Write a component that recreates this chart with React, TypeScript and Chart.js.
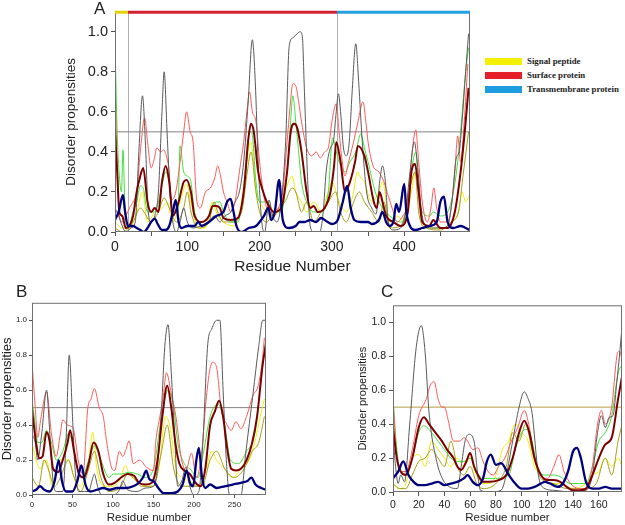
import React, { useEffect, useRef } from 'react';
import { Chart, registerables } from 'chart.js';
Chart.register(...registerables);

const FONT = "'Liberation Sans', Arial, sans-serif";

// ---------- Region annotation (panel A) ----------
const REGION_LABELS = ['Signal peptide', 'Surface protein', 'Transmembrane protein'];
const REGION_BOUNDS = [0, 18, 307, 491];
const REGION_BAR_COLORS = ['#e0d400', '#d42030', '#22a0e0'];
const LEGEND_COLORS = ['#f5f000', '#e62028', '#1e9ce0'];
const THRESHOLD = 0.5;
const Y_TICKS = [0, 0.2, 0.4, 0.6, 0.8, 1.0];

// ---------- Panel A (full sequence) ----------
const A_GRAY = [[0,0.12],[5,0.08],[10,0.03],[15,0.0],[22,0.02],[28,0.05],[33,0.4],[38,0.68],[42,0.45],[46,0.1],[50,0.05],[55,0.08],[60,0.2],[65,0.6],[68,0.8],[72,0.5],[76,0.2],[80,0.05],[85,0.0],[90,0.05],[95,0.12],[100,0.05],[108,0.02],[118,0.03],[128,0.05],[138,0.08],[145,0.05],[152,0.08],[160,0.1],[166,0.15],[172,0.2],[178,0.35],[184,0.64],[190,0.96],[194,0.75],[198,0.35],[203,0.05],[207,0.0],[213,0.16],[218,0.08],[224,0.05],[230,0.15],[236,0.45],[241,0.93],[246,0.97],[252,0.99],[256,1.0],[259,0.98],[262,0.7],[266,0.3],[270,0.03],[275,0.0],[283,0.0],[288,0.1],[292,0.3],[298,0.42],[302,0.45],[306,0.6],[309,0.69],[312,0.6],[316,0.42],[320,0.38],[324,0.45],[328,0.7],[333,0.94],[337,0.75],[342,0.45],[348,0.2],[355,0.12],[361,0.09],[366,0.25],[370,0.33],[374,0.25],[378,0.05],[385,0.01],[395,0.02],[402,0.1],[408,0.3],[414,0.45],[418,0.35],[424,0.1],[430,0.03],[440,0.02],[450,0.02],[460,0.03],[466,0.15],[472,0.37],[476,0.4],[480,0.55],[485,0.8],[489,0.99]];
const A_RED = [[0,0.74],[3,0.35],[6,0.08],[10,0.05],[15,0.08],[20,0.12],[25,0.15],[30,0.2],[35,0.4],[41,0.57],[45,0.45],[50,0.32],[54,0.36],[58,0.42],[63,0.4],[67,0.41],[71,0.38],[75,0.3],[78,0.16],[84,0.2],[90,0.35],[95,0.5],[99,0.6],[104,0.5],[108,0.45],[113,0.16],[118,0.12],[125,0.2],[132,0.22],[138,0.27],[142,0.33],[146,0.28],[150,0.2],[155,0.15],[160,0.1],[166,0.15],[172,0.3],[178,0.45],[183,0.62],[186,0.7],[190,0.6],[195,0.55],[200,0.35],[205,0.2],[210,0.12],[215,0.1],[220,0.08],[226,0.12],[232,0.2],[238,0.45],[242,0.62],[246,0.74],[250,0.73],[254,0.65],[258,0.55],[263,0.45],[267,0.4],[272,0.38],[278,0.4],[284,0.37],[290,0.4],[295,0.42],[300,0.55],[306,0.64],[310,0.5],[314,0.36],[318,0.28],[323,0.35],[330,0.45],[336,0.55],[343,0.65],[347,0.55],[350,0.45],[357,0.33],[365,0.3],[372,0.25],[378,0.18],[385,0.1],[390,0.05],[398,0.08],[405,0.15],[411,0.4],[416,0.51],[420,0.35],[425,0.15],[432,0.05],[437,0.12],[441,0.22],[445,0.12],[450,0.05],[460,0.05],[466,0.15],[470,0.3],[474,0.48],[478,0.35],[483,0.55],[488,0.84]];
const A_GREEN = [[0,0.94],[3,0.5],[6,0.28],[9,0.2],[11,0.41],[14,0.1],[18,0.02],[25,0.1],[30,0.15],[35,0.23],[39,0.22],[45,0.1],[55,0.1],[62,0.18],[66,0.25],[70,0.3],[75,0.25],[80,0.1],[87,0.1],[90,0.43],[95,0.3],[100,0.28],[105,0.25],[110,0.1],[120,0.05],[130,0.08],[140,0.15],[145,0.15],[150,0.1],[160,0.05],[170,0.05],[176,0.15],[181,0.3],[186,0.5],[189,0.5],[195,0.25],[200,0.15],[210,0.15],[220,0.1],[230,0.1],[238,0.3],[242,0.5],[246,0.68],[250,0.55],[254,0.4],[258,0.25],[265,0.15],[275,0.1],[285,0.1],[295,0.2],[301,0.47],[306,0.4],[310,0.35],[318,0.3],[325,0.35],[333,0.4],[340,0.49],[345,0.42],[350,0.35],[360,0.2],[370,0.12],[380,0.08],[395,0.05],[405,0.12],[410,0.3],[416,0.4],[420,0.2],[425,0.1],[435,0.08],[440,0.1],[450,0.08],[460,0.1],[468,0.2],[474,0.35],[478,0.5],[485,0.8],[489,0.92]];
const A_YELLOW = [[0,0.05],[10,0.02],[20,0.02],[30,0.1],[38,0.2],[45,0.05],[55,0.1],[65,0.12],[72,0.15],[80,0.05],[90,0.15],[99,0.24],[105,0.15],[115,0.02],[125,0.02],[135,0.15],[140,0.1],[150,0.05],[165,0.03],[175,0.15],[182,0.35],[188,0.45],[195,0.2],[200,0.15],[210,0.1],[220,0.08],[230,0.15],[240,0.25],[245,0.28],[250,0.2],[258,0.15],[265,0.1],[275,0.15],[285,0.1],[295,0.2],[300,0.25],[310,0.15],[320,0.1],[330,0.2],[335,0.3],[340,0.27],[345,0.25],[355,0.15],[365,0.2],[370,0.25],[380,0.05],[390,0.08],[400,0.05],[410,0.2],[416,0.3],[425,0.05],[435,0.02],[445,0.02],[455,0.02],[465,0.05],[475,0.1],[480,0.2],[485,0.15],[490,0.18]];
const A_OLIVE = [[0,0.02],[10,0.0],[25,0.05],[35,0.12],[40,0.1],[50,0.05],[60,0.1],[68,0.17],[75,0.12],[85,0.05],[95,0.12],[100,0.2],[105,0.1],[115,0.02],[130,0.05],[137,0.15],[142,0.1],[150,0.05],[160,0.05],[175,0.1],[183,0.3],[188,0.4],[195,0.2],[200,0.1],[210,0.05],[220,0.1],[235,0.15],[245,0.22],[250,0.2],[258,0.1],[265,0.15],[275,0.05],[285,0.1],[295,0.15],[305,0.2],[312,0.1],[320,0.05],[330,0.15],[338,0.2],[345,0.15],[355,0.1],[365,0.05],[372,0.15],[380,0.02],[395,0.03],[410,0.25],[415,0.3],[420,0.1],[430,0.02],[450,0.01],[465,0.05],[475,0.1],[482,0.3],[489,0.5]];
const A_MEAN = [[0,0.5],[3,0.3],[6,0.1],[10,0.08],[15,0.02],[20,0.03],[25,0.08],[30,0.2],[35,0.28],[39,0.32],[45,0.15],[50,0.1],[55,0.12],[60,0.1],[65,0.25],[70,0.33],[75,0.25],[80,0.08],[88,0.15],[95,0.25],[99,0.26],[105,0.2],[110,0.08],[120,0.05],[130,0.08],[135,0.13],[140,0.13],[145,0.12],[150,0.07],[160,0.06],[170,0.07],[178,0.2],[184,0.45],[188,0.54],[192,0.5],[198,0.3],[205,0.2],[210,0.15],[220,0.1],[230,0.12],[238,0.3],[243,0.5],[248,0.54],[252,0.52],[258,0.4],[265,0.2],[270,0.12],[275,0.13],[280,0.1],[290,0.12],[298,0.2],[303,0.33],[306,0.45],[312,0.35],[318,0.2],[325,0.25],[332,0.35],[336,0.43],[345,0.38],[350,0.3],[358,0.15],[362,0.12],[366,0.2],[370,0.15],[375,0.08],[385,0.05],[395,0.03],[405,0.1],[410,0.3],[415,0.34],[420,0.2],[425,0.05],[435,0.03],[440,0.06],[450,0.02],[460,0.02],[470,0.1],[478,0.3],[485,0.55],[489,0.72]];
const A_BLUE = [[0,0.06],[5,0.1],[11,0.185],[14,0.1],[18,0.03],[25,0.03],[30,0.02],[35,0.01],[40,0.0],[45,0.02],[50,0.05],[55,0.067],[59,0.04],[65,0.01],[70,0.01],[75,0.03],[80,0.1],[84,0.16],[88,0.05],[92,0.02],[100,0.03],[110,0.03],[115,0.05],[120,0.03],[130,0.05],[140,0.08],[150,0.1],[155,0.15],[160,0.165],[164,0.1],[168,0.03],[175,0.0],[185,0.02],[195,0.03],[200,0.05],[206,0.08],[212,0.12],[216,0.06],[221,0.1],[227,0.26],[232,0.06],[240,0.02],[250,0.03],[255,0.05],[262,0.05],[270,0.06],[278,0.05],[285,0.07],[290,0.06],[300,0.04],[308,0.06],[315,0.15],[321,0.23],[326,0.12],[331,0.06],[340,0.05],[350,0.05],[355,0.04],[365,0.06],[370,0.1],[375,0.05],[380,0.03],[385,0.05],[389,0.14],[393,0.1],[400,0.24],[403,0.1],[408,0.03],[415,0.01],[425,0.02],[435,0.03],[445,0.05],[450,0.15],[455,0.176],[460,0.05],[468,0.02],[478,0.03],[485,0.02],[490,0.01]];

// ---------- Panel B (surface protein) ----------
const B_GRAY = [[0,0.35],[4,0.3],[7,0.2],[12,0.35],[18,0.6],[22,0.35],[26,0.08],[30,0.02],[38,0.02],[42,0.3],[46,0.8],[50,0.45],[53,0.16],[58,0.02],[65,0.02],[70,0.02],[74,0.08],[77,0.12],[81,0.05],[86,0.0],[100,0.0],[108,0.03],[112,0.08],[118,0.03],[130,0.02],[140,0.04],[150,0.05],[155,0.16],[160,0.5],[164,0.85],[168,0.975],[172,0.7],[176,0.35],[180,0.05],[185,0.08],[190,0.16],[195,0.05],[200,0.0],[206,0.02],[211,0.3],[217,0.86],[222,0.95],[228,1.0],[232,1.0],[236,0.6],[240,0.2],[244,0.0],[258,0.0],[264,0.24],[273,0.58],[280,0.85],[285,1.0],[289,1.0]];
const B_RED = [[0,0.76],[4,0.5],[7,0.33],[11,0.44],[18,0.59],[24,0.35],[30,0.22],[35,0.35],[38,0.43],[44,0.4],[51,0.38],[54,0.3],[57,0.2],[63,0.12],[69,0.5],[73,0.55],[77,0.61],[83,0.5],[88,0.45],[92,0.31],[98,0.16],[102,0.14],[108,0.25],[112,0.22],[116,0.26],[120,0.31],[125,0.18],[133,0.2],[141,0.16],[150,0.14],[153,0.31],[158,0.45],[162,0.56],[166,0.7],[172,0.58],[178,0.44],[184,0.22],[190,0.14],[197,0.24],[203,0.1],[209,0.22],[215,0.54],[219,0.7],[223,0.76],[228,0.73],[234,0.48],[240,0.41],[246,0.37],[252,0.42],[258,0.38],[265,0.45],[273,0.57],[279,0.62],[284,0.75],[287,0.9]];
const B_GREEN = [[0,0.55],[4,0.4],[7,0.3],[12,0.3],[18,0.37],[24,0.3],[30,0.2],[38,0.25],[45,0.35],[50,0.3],[56,0.15],[62,0.1],[70,0.2],[77,0.28],[85,0.2],[95,0.1],[100,0.12],[110,0.12],[120,0.13],[130,0.12],[140,0.1],[150,0.15],[160,0.45],[168,0.6],[175,0.5],[180,0.3],[188,0.18],[195,0.15],[205,0.1],[212,0.25],[220,0.45],[230,0.52],[238,0.4],[245,0.2],[255,0.18],[265,0.25],[275,0.35],[285,0.75],[289,0.85]];
const B_YELLOW = [[0,0.3],[5,0.2],[10,0.15],[18,0.2],[25,0.05],[30,0.15],[35,0.2],[45,0.2],[52,0.1],[60,0.05],[70,0.2],[75,0.36],[80,0.15],[90,0.05],[100,0.05],[110,0.1],[115,0.17],[120,0.12],[130,0.08],[140,0.05],[150,0.05],[158,0.2],[165,0.45],[170,0.4],[178,0.15],[185,0.1],[195,0.08],[205,0.05],[215,0.15],[222,0.25],[228,0.2],[238,0.15],[248,0.1],[258,0.15],[268,0.2],[275,0.3],[282,0.45],[287,0.55]];
const B_OLIVE = [[0,0.1],[8,0.05],[15,0.2],[20,0.15],[28,0.05],[35,0.1],[45,0.2],[52,0.1],[60,0.02],[70,0.15],[77,0.25],[85,0.1],[95,0.02],[110,0.05],[118,0.12],[125,0.1],[135,0.05],[150,0.05],[160,0.25],[167,0.4],[175,0.15],[185,0.05],[195,0.05],[210,0.05],[220,0.2],[228,0.25],[238,0.15],[250,0.1],[262,0.15],[272,0.25],[280,0.3],[287,0.45]];
const B_MEAN = [[0,0.49],[5,0.3],[9,0.21],[13,0.22],[18,0.36],[22,0.3],[26,0.15],[32,0.13],[38,0.2],[44,0.3],[47,0.37],[52,0.25],[58,0.12],[64,0.1],[70,0.18],[76,0.3],[82,0.25],[88,0.12],[95,0.06],[102,0.07],[110,0.1],[118,0.12],[126,0.11],[132,0.07],[140,0.06],[148,0.07],[155,0.2],[161,0.45],[167,0.625],[172,0.5],[177,0.3],[182,0.18],[188,0.14],[195,0.12],[202,0.07],[208,0.05],[214,0.15],[220,0.4],[226,0.48],[231,0.54],[236,0.45],[240,0.3],[246,0.15],[252,0.14],[258,0.15],[265,0.2],[272,0.3],[278,0.45],[285,0.75],[289,0.87]];
const B_BLUE = [[0,0.02],[5,0.03],[10,0.05],[15,0.03],[22,0.02],[28,0.08],[33,0.2],[37,0.08],[42,0.02],[50,0.02],[56,0.08],[61,0.17],[66,0.06],[72,0.02],[80,0.03],[88,0.04],[96,0.03],[105,0.04],[115,0.04],[125,0.05],[132,0.07],[137,0.1],[141,0.14],[145,0.09],[150,0.08],[156,0.04],[163,0.01],[172,0.01],[180,0.02],[186,0.06],[191,0.14],[195,0.07],[199,0.05],[203,0.2],[206,0.27],[210,0.1],[214,0.04],[220,0.06],[228,0.04],[238,0.05],[248,0.06],[258,0.07],[266,0.08],[271,0.1],[276,0.06],[283,0.04],[289,0.03]];

// ---------- Panel C (transmembrane protein) ----------
const C_GRAY = [[0,0.34],[2,0.15],[4,0.05],[6,0.1],[9,0.06],[13,0.4],[18,0.85],[22,0.98],[25,0.82],[28,0.47],[34,0.18],[39,0.07],[44,0.03],[50,0.02],[53,0.15],[56,0.3],[59,0.34],[63,0.3],[66,0.09],[68,0.01],[75,0.0],[84,0.01],[88,0.1],[93,0.3],[98,0.5],[102,0.59],[105,0.55],[108,0.47],[113,0.1],[116,0.03],[125,0.01],[140,0.0],[150,0.01],[155,0.1],[159,0.35],[162,0.45],[165,0.38],[168,0.44],[171,0.45],[174,0.65],[176,0.8],[178,0.97]];
const C_RED = [[0,0.55],[3,0.2],[6,0.12],[10,0.12],[15,0.25],[20,0.45],[26,0.55],[29,0.63],[32,0.65],[35,0.55],[38,0.5],[40,0.5],[43,0.42],[47,0.3],[52,0.3],[55,0.32],[58,0.3],[62,0.25],[66,0.26],[70,0.18],[74,0.12],[78,0.1],[82,0.15],[87,0.2],[92,0.3],[97,0.38],[102,0.48],[106,0.38],[110,0.2],[115,0.1],[120,0.08],[125,0.15],[129,0.22],[133,0.12],[138,0.05],[145,0.02],[150,0.02],[155,0.15],[159,0.4],[162,0.48],[165,0.4],[170,0.5],[174,0.8],[176,0.83],[178,0.78]];
const C_GREEN = [[0,0.55],[3,0.25],[6,0.12],[10,0.12],[15,0.2],[20,0.35],[24,0.39],[30,0.35],[35,0.3],[40,0.25],[45,0.2],[50,0.18],[55,0.18],[60,0.2],[65,0.12],[70,0.08],[80,0.08],[90,0.1],[95,0.25],[100,0.35],[104,0.37],[108,0.3],[112,0.15],[118,0.1],[125,0.1],[130,0.09],[138,0.05],[145,0.05],[150,0.05],[155,0.15],[160,0.3],[165,0.35],[170,0.45],[175,0.7],[178,0.75]];
const C_YELLOW = [[0,0.05],[5,0.02],[10,0.05],[15,0.2],[20,0.22],[25,0.15],[30,0.3],[35,0.25],[40,0.2],[45,0.15],[50,0.2],[55,0.15],[60,0.2],[65,0.1],[70,0.05],[75,0.05],[80,0.1],[85,0.25],[90,0.3],[95,0.4],[100,0.35],[105,0.3],[110,0.15],[115,0.1],[120,0.05],[130,0.05],[140,0.02],[150,0.05],[155,0.1],[160,0.12],[165,0.2],[170,0.15],[175,0.2],[178,0.15]];
const C_OLIVE = [[0,0.05],[5,0.02],[10,0.02],[15,0.1],[20,0.18],[25,0.2],[30,0.25],[35,0.2],[40,0.15],[45,0.3],[50,0.15],[55,0.1],[60,0.15],[65,0.05],[70,0.02],[80,0.05],[88,0.15],[93,0.35],[98,0.3],[103,0.4],[108,0.25],[115,0.08],[125,0.05],[135,0.02],[150,0.02],[158,0.05],[165,0.2],[170,0.1],[175,0.3],[178,0.4]];
const C_MEAN = [[0,0.38],[3,0.2],[6,0.12],[10,0.1],[15,0.2],[20,0.38],[24,0.44],[28,0.4],[33,0.35],[38,0.3],[42,0.25],[47,0.2],[50,0.15],[53,0.13],[57,0.18],[60,0.23],[63,0.15],[66,0.1],[70,0.06],[75,0.06],[82,0.07],[88,0.1],[93,0.2],[98,0.35],[102,0.42],[106,0.35],[110,0.2],[115,0.1],[120,0.07],[125,0.07],[130,0.06],[135,0.03],[140,0.01],[145,0.01],[150,0.02],[155,0.1],[160,0.2],[165,0.28],[170,0.32],[175,0.55],[178,0.68]];
const C_BLUE = [[0,0.08],[4,0.12],[8,0.18],[12,0.1],[16,0.06],[20,0.04],[25,0.04],[30,0.05],[35,0.06],[40,0.04],[45,0.05],[50,0.06],[55,0.08],[58,0.1],[62,0.06],[66,0.04],[70,0.08],[73,0.18],[76,0.22],[80,0.16],[84,0.17],[90,0.1],[95,0.05],[100,0.02],[105,0.02],[110,0.03],[115,0.05],[118,0.06],[122,0.05],[128,0.03],[132,0.05],[136,0.12],[140,0.24],[143,0.26],[146,0.2],[150,0.06],[155,0.02],[160,0.02],[165,0.03],[170,0.02],[178,0.02]];

const toXY = (arr: number[][]) => arr.map(([x, y]) => ({ x, y }));

function makeDatasets(s: any, xMax: number, threshColor: string) {
  const defs = [
    { data: s.blue, color: '#00007c', w: 2.3, order: 0 },
    { data: s.mean, color: '#7c0000', w: 2, order: 1 },
    { data: s.gray, color: '#5a5a5a', w: 1, order: 2 },
    { data: s.red, color: '#ff5a5a', w: 1, order: 3 },
    { data: s.green, color: '#3fe03f', w: 1, order: 4 },
    { data: s.olive, color: '#a89c1c', w: 1, order: 5 },
    { data: s.yellow, color: '#eeee10', w: 1, order: 6 },
  ];
  const ds: any[] = defs.map((d) => ({
    data: toXY(d.data),
    borderColor: d.color,
    borderWidth: d.w,
    order: d.order,
    pointRadius: 0,
    fill: false,
    cubicInterpolationMode: 'monotone',
  }));
  ds.push({
    data: [{ x: 0, y: THRESHOLD }, { x: xMax, y: THRESHOLD }],
    borderColor: threshColor,
    borderWidth: 1,
    order: 10,
    pointRadius: 0,
    fill: false,
  });
  return ds;
}

const framePlugin = {
  id: 'frame',
  beforeDatasetsDraw(chart: any, _a: any, opts: any) {
    const { ctx, chartArea: a, scales } = chart;
    ctx.save();
    (opts.vlines || []).forEach((v: number) => {
      const px = Math.round(scales.x.getPixelForValue(v)) + 0.5;
      ctx.strokeStyle = '#b0b0b0';
      ctx.lineWidth = 1;
      ctx.beginPath();
      ctx.moveTo(px, a.top);
      ctx.lineTo(px, a.bottom);
      ctx.stroke();
    });
    ctx.restore();
  },
  afterDatasetsDraw(chart: any, _a: any, opts: any) {
    const { ctx, chartArea: a, scales } = chart;
    ctx.save();
    ctx.strokeStyle = '#707070';
    ctx.lineWidth = 1;
    ctx.strokeRect(a.left + 0.5, a.top + 0.5, a.width - 1, a.height - 1);
    (opts.segments || []).forEach((s: any) => {
      ctx.strokeStyle = s.color;
      ctx.lineWidth = 3;
      ctx.beginPath();
      ctx.moveTo(scales.x.getPixelForValue(s.from), a.top + 0.5);
      ctx.lineTo(scales.x.getPixelForValue(s.to), a.top + 0.5);
      ctx.stroke();
    });
    ctx.restore();
  },
};

function buildOptions(p: any) {
  return {
    responsive: false,
    animation: false,
    events: [],
    layout: { padding: p.padding },
    plugins: {
      legend: { display: false },
      tooltip: { enabled: false },
      frame: { vlines: p.vlines || [], segments: p.segments || [] },
    },
    scales: {
      x: {
        type: 'linear',
        min: 0,
        max: p.xMax,
        afterFit: (s: any) => { s.height = p.xH; },
        afterBuildTicks: (s: any) => {
          const t: any[] = [];
          for (let v = 0; v <= p.xMax; v += p.xStep) t.push({ value: v });
          s.ticks = t;
        },
        ticks: {
          autoSkip: false,
          maxRotation: 0,
          font: { family: FONT, size: p.xTickSize },
          color: '#222',
          padding: p.xTickPad,
          callback: (v: number) => (v % p.xLabelEvery === 0 ? String(v) : ''),
        },
        grid: { display: true, drawOnChartArea: false, drawTicks: true, tickLength: p.tickLen, color: '#555' },
        border: { display: false },
        title: { display: true, text: p.xTitle, font: { family: FONT, size: p.xTitleSize }, color: '#222', padding: { top: 0, bottom: p.xTitlePad } },
      },
      y: {
        type: 'linear',
        min: 0,
        max: 1.1,
        afterFit: (s: any) => { s.width = p.yW; },
        afterBuildTicks: (s: any) => {
          s.ticks = Y_TICKS.map((v) => ({ value: v }));
        },
        ticks: {
          autoSkip: false,
          font: { family: FONT, size: p.yTickSize },
          color: '#222',
          padding: p.yTickPad,
          callback: (v: number) => Number(v).toFixed(1),
        },
        grid: { display: true, drawOnChartArea: false, drawTicks: true, tickLength: p.tickLen, color: '#555' },
        border: { display: false },
        title: { display: true, text: 'Disorder propensities', font: { family: FONT, size: p.yTitleSize }, color: '#222', padding: { top: p.yTitlePad, bottom: 0 } },
      },
    },
  };
}

function Panel({ left, top, width, height, series, xMax, threshColor, params }: any) {
  const ref = useRef<HTMLCanvasElement>(null);
  useEffect(() => {
    const chart = new Chart(ref.current as HTMLCanvasElement, {
      type: 'line',
      data: { datasets: makeDatasets(series, xMax, threshColor) },
      options: buildOptions({ ...params, xMax }) as any,
      plugins: [framePlugin],
    });
    return () => chart.destroy();
  }, []);
  return (
    <canvas
      ref={ref}
      width={width}
      height={height}
      style={{ position: 'absolute', left, top, width, height, display: 'block' }}
    />
  );
}

const SERIES_A = { gray: A_GRAY, red: A_RED, green: A_GREEN, yellow: A_YELLOW, olive: A_OLIVE, mean: A_MEAN, blue: A_BLUE };
const SERIES_B = { gray: B_GRAY, red: B_RED, green: B_GREEN, yellow: B_YELLOW, olive: B_OLIVE, mean: B_MEAN, blue: B_BLUE };
const SERIES_C = { gray: C_GRAY, red: C_RED, green: C_GREEN, yellow: C_YELLOW, olive: C_OLIVE, mean: C_MEAN, blue: C_BLUE };

const segmentsA = REGION_LABELS.map((_, i) => ({ from: REGION_BOUNDS[i], to: REGION_BOUNDS[i + 1], color: REGION_BAR_COLORS[i] }));

export default function App() {
  const letter = { position: 'absolute' as const, fontFamily: FONT, fontSize: 17, color: '#222', lineHeight: '17px' };
  return (
    <div style={{ position: 'absolute', left: 0, top: 0, width: 625, height: 525, background: '#fff', overflow: 'hidden' }}>
      <Panel
        left={0} top={0} width={480} height={282}
        series={SERIES_A} xMax={REGION_BOUNDS[3]} threshColor="#808080"
        params={{
          padding: { left: 0, right: 10, top: 5, bottom: 0 },
          vlines: [REGION_BOUNDS[1], REGION_BOUNDS[2]],
          segments: segmentsA,
          xH: 50, yW: 115, tickLen: 4,
          xStep: 50, xLabelEvery: 100, xTickSize: 14, xTickPad: 3,
          xTitle: 'Residue Number', xTitleSize: 15.5, xTitlePad: 6,
          yTickSize: 14.5, yTickPad: 3, yTitleSize: 13.5, yTitlePad: 63,
        }}
      />
      <Panel
        left={0} top={296} width={290} height={229}
        series={SERIES_B} xMax={289} threshColor="#808080"
        params={{
          padding: { left: 0, right: 24, top: 6, bottom: 0 },
          xH: 30, yW: 32, tickLen: 3,
          xStep: 50, xLabelEvery: 50, xTickSize: 8, xTickPad: 2,
          xTitle: 'Residue number', xTitleSize: 11.5, xTitlePad: 0,
          yTickSize: 8, yTickPad: 2, yTitleSize: 13, yTitlePad: 0,
        }}
      />
      <Panel
        left={330} top={296} width={295} height={229}
        series={SERIES_C} xMax={178} threshColor="#b0a040"
        params={{
          padding: { left: 0, right: 3, top: 6, bottom: 0 },
          xH: 33, yW: 63, tickLen: 4,
          xStep: 20, xLabelEvery: 20, xTickSize: 10.5, xTickPad: 3,
          xTitle: 'Residue number', xTitleSize: 11.5, xTitlePad: 0,
          yTickSize: 10.5, yTickPad: 3, yTitleSize: 11, yTitlePad: 26,
        }}
      />
      <div style={{ ...letter, left: 94, top: 0 }}>A</div>
      <div style={{ ...letter, left: 16, top: 283 }}>B</div>
      <div style={{ ...letter, left: 381, top: 283 }}>C</div>
      {REGION_LABELS.map((lab, i) => (
        <div key={lab} style={{ position: 'absolute', left: 485, top: 55 + i * 14, height: 12, display: 'flex', alignItems: 'center' }}>
          <div style={{ width: 37, height: 7, background: LEGEND_COLORS[i] }} />
          <span style={{ marginLeft: 5, fontFamily: "'Liberation Serif', 'Times New Roman', serif", fontWeight: 'bold', fontSize: 8.8, color: '#222', whiteSpace: 'nowrap' }}>{lab}</span>
        </div>
      ))}
    </div>
  );
}
